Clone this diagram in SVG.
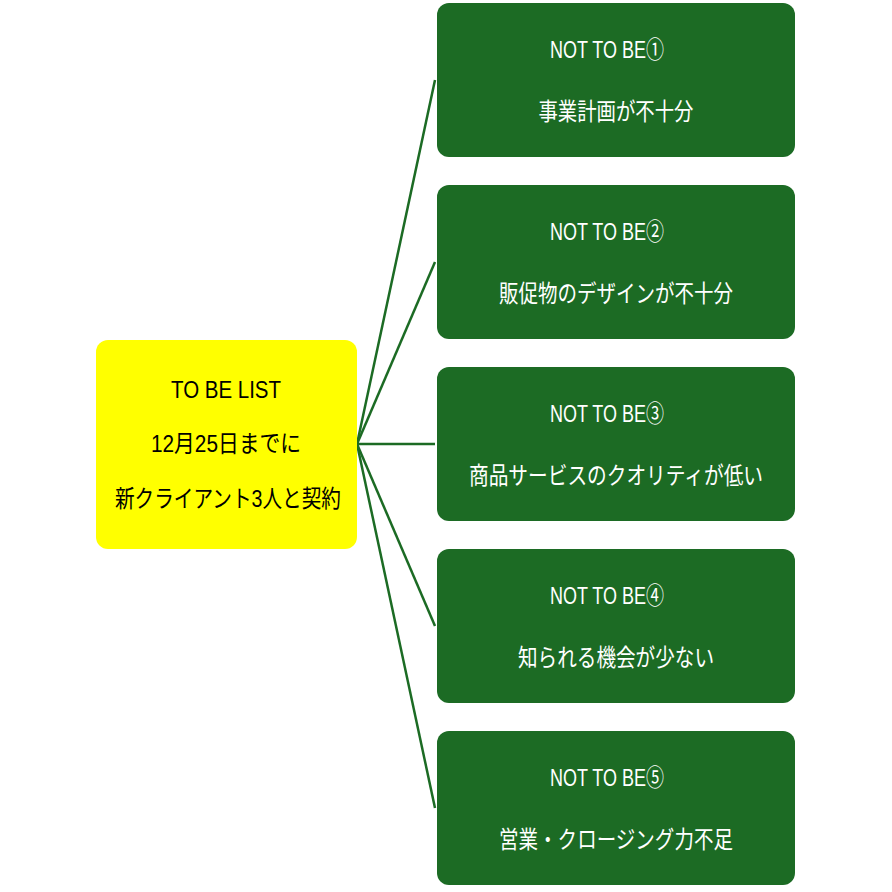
<svg xmlns="http://www.w3.org/2000/svg" width="892" height="892" viewBox="0 0 892 892">
<style>
.g{fill:#1c6b24}
.y{fill:#ffff00}
.t{font-family:"Liberation Sans","Noto Sans CJK JP",sans-serif;font-size:24px;text-anchor:middle}
.w{fill:#fff}
.k{fill:#000}
.c line{stroke:#1c6b24;stroke-width:2.5}
</style>
<rect width="892" height="892" fill="#fff"/>
<g class="c" id="connectors">
<line x1="357" y1="444" x2="435" y2="80"/>
<line x1="357" y1="444" x2="435" y2="262"/>
<line x1="357" y1="444" x2="435" y2="444"/>
<line x1="357" y1="444" x2="435" y2="626"/>
<line x1="357" y1="444" x2="435" y2="808"/>
</g>
<g id="root">
<rect class="y" x="96" y="340" width="261" height="209" rx="12"/>
<text class="t k" x="226" y="398" textLength="110" lengthAdjust="spacingAndGlyphs">TO BE LIST</text>
<text class="t k" x="226" y="452" textLength="150" lengthAdjust="spacingAndGlyphs">12月25日までに</text>
<text class="t k" x="228" y="507" textLength="226" lengthAdjust="spacingAndGlyphs">新クライアント3人と契約</text>
</g>
<g id="n1"><rect class="g" x="437" y="3" width="358" height="154" rx="12"/>
<text class="t w" x="607" y="58" textLength="114" lengthAdjust="spacingAndGlyphs">NOT TO BE①</text>
<text class="t w" x="616" y="120" textLength="155" lengthAdjust="spacingAndGlyphs">事業計画が不十分</text></g>
<g id="n2"><rect class="g" x="437" y="185" width="358" height="154" rx="12"/>
<text class="t w" x="607" y="240" textLength="114" lengthAdjust="spacingAndGlyphs">NOT TO BE②</text>
<text class="t w" x="616" y="302" textLength="234" lengthAdjust="spacingAndGlyphs">販促物のデザインが不十分</text></g>
<g id="n3"><rect class="g" x="437" y="367" width="358" height="154" rx="12"/>
<text class="t w" x="607" y="422" textLength="114" lengthAdjust="spacingAndGlyphs">NOT TO BE③</text>
<text class="t w" x="616" y="484" textLength="294" lengthAdjust="spacingAndGlyphs">商品サービスのクオリティが低い</text></g>
<g id="n4"><rect class="g" x="437" y="549" width="358" height="154" rx="12"/>
<text class="t w" x="607" y="604" textLength="114" lengthAdjust="spacingAndGlyphs">NOT TO BE④</text>
<text class="t w" x="616" y="666" textLength="196" lengthAdjust="spacingAndGlyphs">知られる機会が少ない</text></g>
<g id="n5"><rect class="g" x="437" y="731" width="358" height="154" rx="12"/>
<text class="t w" x="607" y="786" textLength="114" lengthAdjust="spacingAndGlyphs">NOT TO BE⑤</text>
<text class="t w" x="616" y="848" textLength="234" lengthAdjust="spacingAndGlyphs">営業・クロージング力不足</text></g>
</svg>
